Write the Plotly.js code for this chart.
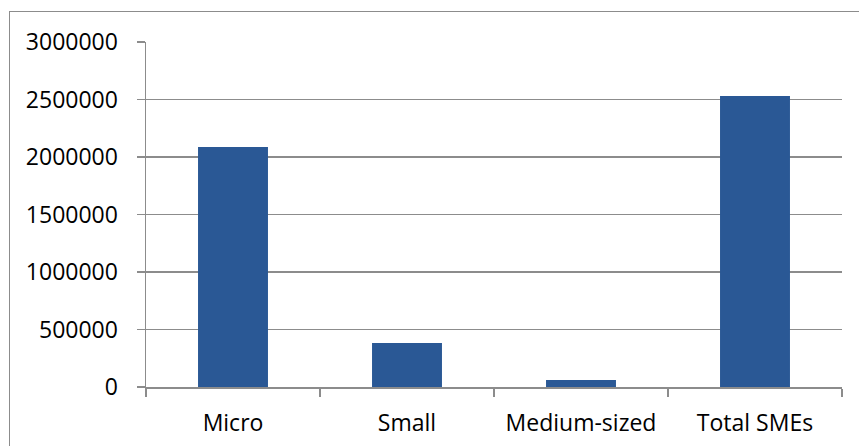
<!DOCTYPE html>
<html>
<head>
<meta charset="utf-8">
<script src="https://cdn.plot.ly/plotly-3.0.1.min.js"></script>
<style>
html,body{margin:0;padding:0;background:#fff;}
#frame{position:absolute;left:9px;top:11px;width:900px;height:500px;border-left:1.5px solid #8c8c8c;border-top:1.5px solid #8c8c8c;box-sizing:border-box;}
#chart{position:absolute;left:0;top:0;width:859px;height:446px;}
</style>
</head>
<body>
<div id="frame"></div>
<div id="chart"></div>
<script>
const categories = ["Micro", "Small", "Medium-sized", "Total SMEs"];
const enterprises = [2087000, 383000, 61000, 2530000];
const tickValues = [0, 500000, 1000000, 1500000, 2000000, 2500000, 3000000];
const tickLabels = ["0", "500000", "1000000", "1500000", "2000000", "2500000", "3000000"];

const trace = {
  type: "bar",
  x: categories,
  y: enterprises,
  marker: {color: "#2a5895", line: {width: 0}},
  hoverinfo: "x+y"
};

const layout = {
  width: 859,
  height: 446,
  margin: {l: 146, r: 17, t: 42, b: 59},
  paper_bgcolor: "rgba(0,0,0,0)",
  plot_bgcolor: "rgba(0,0,0,0)",
  showlegend: false,
  bargap: 0.598,
  font: {family: "Open Sans, sans-serif", size: 23, color: "#000"},
  xaxis: {
    type: "category",
    showline: true,
    linecolor: "#8c8c8c",
    linewidth: 1.5,
    ticks: "outside",
    tickson: "boundaries",
    ticklen: 8,
    tickwidth: 1.5,
    tickcolor: "#8c8c8c",
    showgrid: false,
    ticklabelstandoff: 15,
    tickfont: {family: "Open Sans, sans-serif", size: 23, color: "#000"}
  },
  yaxis: {
    range: [0, 3000000],
    tickmode: "array",
    tickvals: tickValues,
    ticktext: tickLabels,
    showline: true,
    linecolor: "#8c8c8c",
    linewidth: 1.5,
    ticks: "outside",
    ticklen: 8,
    tickwidth: 1.5,
    tickcolor: "#8c8c8c",
    showgrid: true,
    gridcolor: "#8c8c8c",
    gridwidth: 1.5,
    zeroline: false,
    ticklabelstandoff: 14,
    tickfont: {family: "Open Sans, sans-serif", size: 23, color: "#000"}
  }
};

Plotly.newPlot("chart", [trace], layout, {displayModeBar: false, staticPlot: true});
</script>
</body>
</html>
